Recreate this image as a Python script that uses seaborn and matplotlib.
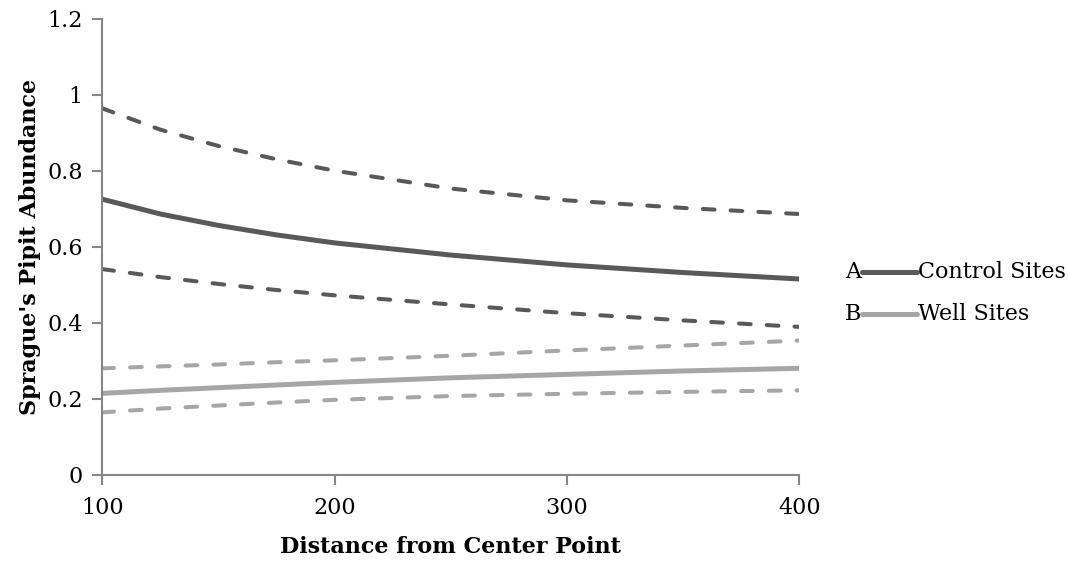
import matplotlib
matplotlib.use("Agg")
import matplotlib.pyplot as plt
import seaborn as sns
import pandas as pd
from matplotlib.lines import Line2D

distance = [100, 125, 150, 175, 200, 250, 300, 350, 400]
control_mean = [0.725, 0.686, 0.656, 0.631, 0.610, 0.578, 0.552, 0.532, 0.515]
control_upper = [0.964, 0.908, 0.865, 0.830, 0.800, 0.753, 0.722, 0.702, 0.686]
control_lower = [0.541, 0.520, 0.502, 0.486, 0.472, 0.448, 0.425, 0.406, 0.389]
well_mean = [0.214, 0.222, 0.229, 0.236, 0.243, 0.255, 0.264, 0.273, 0.280]
well_upper = [0.280, 0.285, 0.290, 0.296, 0.301, 0.313, 0.327, 0.340, 0.353]
well_lower = [0.164, 0.174, 0.182, 0.190, 0.197, 0.207, 0.213, 0.218, 0.222]

y_ticks = [0, 0.2, 0.4, 0.6, 0.8, 1.0, 1.2]
y_tick_labels = ["0", "0.2", "0.4", "0.6", "0.8", "1", "1.2"]
x_ticks = [100, 200, 300, 400]
x_tick_labels = ["100", "200", "300", "400"]
legend_labels = ["Control Sites", "Well Sites"]
legend_letters = ["A", "B"]

sns.set_style("white")
plt.rcParams['font.family'] = ['DejaVu Serif']
plt.rcParams['text.color'] = 'black'
plt.rcParams['axes.labelcolor'] = 'black'

dark = "#595959"
light = "#a6a6a6"
axis_gray = "#868686"

W, H = 1068, 562
fig = plt.figure(figsize=(W / 100, H / 100), dpi=100)
ax_left, ax_right, ax_top, ax_bottom = 102.3, 799.3, 18.7, 474.7
ax = fig.add_axes([ax_left / W, 1 - ax_bottom / H,
                   (ax_right - ax_left) / W, (ax_bottom - ax_top) / H])

df = pd.DataFrame({
    "distance": distance,
    "control_mean": control_mean,
    "control_upper": control_upper,
    "control_lower": control_lower,
    "well_mean": well_mean,
    "well_upper": well_upper,
    "well_lower": well_lower,
})

dash = (0, (2.9, 4.0))
solid_lw = 3.6
dash_lw = 2.9

for col in ["control_upper", "control_lower"]:
    sns.lineplot(data=df, x="distance", y=col, ax=ax, color=dark, lw=dash_lw,
                 linestyle=dash, dash_capstyle="round")
for col in ["well_upper", "well_lower"]:
    sns.lineplot(data=df, x="distance", y=col, ax=ax, color=light, lw=dash_lw,
                 linestyle=dash, dash_capstyle="round")
sns.lineplot(data=df, x="distance", y="control_mean", ax=ax, color=dark, lw=solid_lw)
sns.lineplot(data=df, x="distance", y="well_mean", ax=ax, color=light, lw=solid_lw)

ax.set_xlim(100, 400)
ax.set_ylim(0, 1.2)
ax.set_xticks(x_ticks)
ax.set_xticklabels(x_tick_labels)
ax.set_yticks(y_ticks)
ax.set_yticklabels(y_tick_labels)

for s in ["top", "right"]:
    ax.spines[s].set_visible(False)
for s in ["left", "bottom"]:
    ax.spines[s].set_color(axis_gray)
    ax.spines[s].set_linewidth(1.5)
ax.tick_params(axis="both", direction="out", length=7, width=1.5, color=axis_gray,
               labelsize=16, labelcolor="black", left=True, bottom=True)
ax.tick_params(axis="y", pad=7)
ax.tick_params(axis="x", pad=9)

ax.set_xlabel("Distance from Center Point", fontsize=16, fontweight="bold",
              va="center", color="black")
ax.set_ylabel("Sprague's Pipit Abundance", fontsize=16, fontweight="bold",
              va="center", color="black")
ax.xaxis.set_label_coords(0.5, (ax_bottom - 547) / (ax_bottom - ax_top))
ax.yaxis.set_label_coords((30 - ax_left) / (ax_right - ax_left), 0.5)

handles = [Line2D([], [], color=dark, lw=solid_lw),
           Line2D([], [], color=light, lw=solid_lw)]
row_y = [272, 314]
for letter, label, h, yy in zip(legend_letters, legend_labels, handles, row_y):
    fig.text(861 / W, 1 - yy / H, letter, fontsize=16, ha="right", va="center",
             color="black")
    fig.add_artist(Line2D([862 / W, 917 / W], [1 - yy / H, 1 - yy / H],
                          color=h.get_color(), lw=solid_lw, transform=fig.transFigure))
    fig.text(918 / W, 1 - yy / H, label, fontsize=16, ha="left", va="center",
             color="black")

fig.savefig("out.png", dpi=100)
